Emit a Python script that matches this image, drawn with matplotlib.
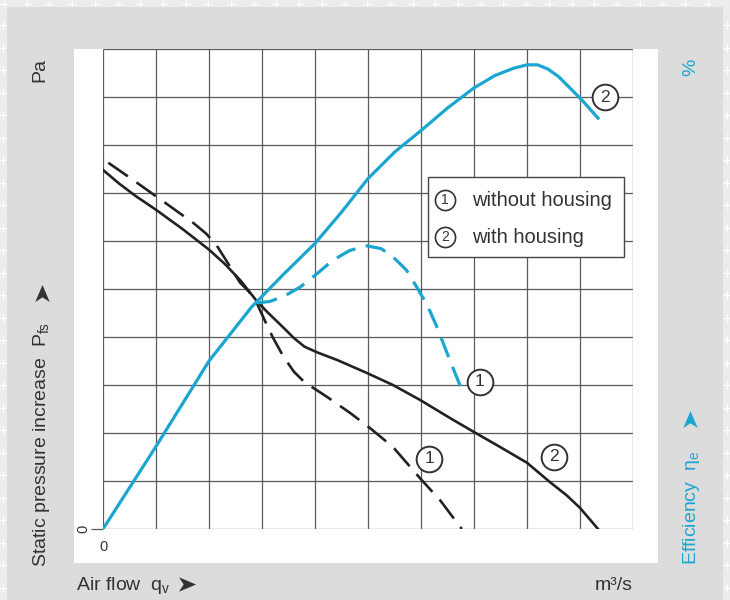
import numpy as np
import matplotlib
matplotlib.use('Agg')
import matplotlib.pyplot as plt
from matplotlib.patches import Rectangle
from matplotlib.path import Path

plt.rcParams['font.family'] = ['Liberation Sans', 'DejaVu Sans']
plt.rcParams['mathtext.fontset'] = 'custom'
plt.rcParams['mathtext.rm'] = 'Liberation Sans'
plt.rcParams['mathtext.it'] = 'Liberation Sans'

CYAN = '#1ba6d1'
DARK = '#222222'
TEXT = '#333333'

# pressure curves (grid units, 10 x 10)
p2_x = [0, 0.3, 0.6, 1.0, 1.5, 2.0, 2.3, 2.6, 2.9, 3.1, 3.4, 3.6, 3.8, 4.04, 4.42, 4.98, 5.47,
        5.98, 6.55, 7.0, 7.49, 8.0, 8.43, 8.75, 9.0, 9.34]
p2_y = [7.48, 7.2, 6.95, 6.65, 6.25, 5.82, 5.52, 5.17, 4.75, 4.52, 4.2, 3.98, 3.8, 3.68, 3.52,
        3.25, 3.0, 2.69, 2.31, 2.02, 1.71, 1.38, 0.98, 0.7, 0.44, 0.0]
p1_x = [0.1, 0.57, 1.13, 1.70, 1.95, 2.15, 2.35, 2.58, 2.75, 2.9, 3.05, 3.2, 3.4, 3.6, 3.8,
        4.23, 4.66, 5.04, 5.47, 5.98, 6.36, 6.77]
p1_y = [7.63, 7.27, 6.83, 6.38, 6.15, 5.9, 5.55, 5.14, 4.95, 4.71, 4.35, 4.0, 3.6, 3.28, 3.06,
        2.75, 2.42, 2.1, 1.71, 1.06, 0.6, 0.0]

# efficiency curves
e2_x = [0, 1.0, 2.0, 2.8, 3.4, 4.0, 4.5, 5.0, 5.5, 6.0, 6.5, 7.0, 7.4, 7.75, 8.0, 8.2, 8.4,
        8.6, 8.8, 9.05, 9.34]
e2_y = [0, 1.72, 3.5, 4.62, 5.3, 5.95, 6.6, 7.3, 7.85, 8.3, 8.77, 9.19, 9.45, 9.6, 9.67, 9.67,
        9.58, 9.42, 9.2, 8.92, 8.56]
e1_x = [2.9, 3.15, 3.45, 3.72, 4.05, 4.34, 4.65, 4.98, 5.25, 5.47, 5.72, 5.92, 6.12, 6.3, 6.55,
        6.77]
e1_y = [4.71, 4.74, 4.87, 5.04, 5.33, 5.6, 5.8, 5.9, 5.84, 5.67, 5.4, 5.04, 4.66, 4.21, 3.5,
        2.9]

# circled curve numbers
lab_x = [9.47, 7.11, 6.16, 8.5]
lab_y = [9.0, 3.07, 1.46, 1.51]
lab_t = ['2', '1', '1', '2']

legend_txt = ['without housing', 'with housing']
legend_num = ['1', '2']

# arrowhead like the ➤ sign
arrow = Path([(-1, -0.85), (1, 0), (-1, 0.85), (-0.45, 0), (-1, -0.85)],
             [Path.MOVETO, Path.LINETO, Path.LINETO, Path.LINETO, Path.CLOSEPOLY])

fig = plt.figure(figsize=(7.3, 6.0), dpi=100)
fig.patch.set_facecolor('#ececec')

# background panel in pixel coordinates
bg = fig.add_axes([0, 0, 1, 1], zorder=-5)
bg.set_xlim(0, 730)
bg.set_ylim(600, 0)
bg.axis('off')
cx = np.arange(4, 730, 22.7)
bg.scatter(cx, np.full_like(cx, 4), marker='+', s=40, c='white', lw=0.8)
cy = np.arange(25, 600, 22.5)
bg.scatter(np.full_like(cy, 3), cy, marker='+', s=40, c='white', lw=0.8)
bg.scatter(np.full_like(cy, 727), cy, marker='+', s=40, c='white', lw=0.8)
bg.add_patch(Rectangle((7, 7), 716, 600, facecolor='#dcdcdc', edgecolor='none'))
bg.add_patch(Rectangle((74, 49), 584, 514, facecolor='white', edgecolor='none'))

ax = fig.add_axes([103 / 730, 71 / 600, 530 / 730, 480 / 600])
ax.set_facecolor('none')
ax.set_xlim(0, 10)
ax.set_ylim(0, 10)
for s in ax.spines.values():
    s.set_visible(False)
ax.vlines(np.arange(11), 0, 10, color='#5a5a5a', lw=0.9, zorder=1)
ax.hlines(np.arange(11), 0, 10, color='#5a5a5a', lw=0.9, zorder=1)

ax.set_xticks([0])
ax.set_xticklabels(['0'], fontsize=10.5, color=TEXT)
ax.set_yticks([0])
ax.set_yticklabels(['0'], fontsize=10.5, color=TEXT, rotation=90, va='center')
ax.tick_params(axis='x', length=0, pad=8)
ax.tick_params(axis='y', length=9, width=0.9, color='#5a5a5a', pad=0)

ax.plot(p2_x, p2_y, color=DARK, lw=1.9, zorder=3, solid_joinstyle='round')
ax.plot(p1_x, p1_y, color=DARK, lw=1.9, zorder=3, dashes=(9, 4), dash_joinstyle='round')
ax.plot(e2_x, e2_y, color=CYAN, lw=2.3, zorder=3, solid_joinstyle='round')
ax.plot(e1_x, e1_y, color=CYAN, lw=2.3, zorder=3, dashes=(6.5, 3.3), dash_joinstyle='round')

ax.scatter(lab_x, lab_y, s=18.5 ** 2, facecolor='white', edgecolor=TEXT, lw=1.4, zorder=5)
for x, y, t in zip(lab_x, lab_y, lab_t):
    ax.text(x, y, t, ha='center', va='center', fontsize=12.5, color=TEXT, zorder=6)

# legend box
ax.add_patch(Rectangle((6.13, 5.67), 3.7, 1.66, facecolor='white', edgecolor='#444444',
                       lw=1.0, zorder=4))
for i, (n, t) in enumerate(zip(legend_num, legend_txt)):
    yy = 6.85 - i * 0.77
    ax.scatter([6.45], [yy], s=14.5 ** 2, facecolor='white', edgecolor=TEXT, lw=1.2, zorder=5)
    ax.text(6.45, yy, n, ha='center', va='center', fontsize=10, color=TEXT, zorder=6)
    ax.text(6.96, yy, t, ha='left', va='center', fontsize=14.5, color=TEXT, zorder=6)

# axis titles
fig.text(40 / 730, 1 - 70 / 600, 'Pa', rotation=90, ha='center', va='center',
         fontsize=14, color=TEXT)
fig.text(42 / 730, 1 - 567 / 600, r'Static pressure increase  P$_\mathrm{fs}$', rotation=90,
         ha='center', va='bottom', fontsize=14, color=TEXT)
fig.text(691 / 730, 1 - 67 / 600, '%', rotation=90, ha='center', va='center',
         fontsize=14, color=CYAN)
fig.text(691 / 730, 1 - 565 / 600, r'Efficiency  η$_\mathrm{e}$', rotation=90,
         ha='center', va='bottom', fontsize=14, color=CYAN)
fig.text(76 / 730, 1 - 585 / 600, r'Air flow  q$_\mathrm{v}$', ha='left', va='center',
         fontsize=14, color=TEXT)
fig.text(633 / 730, 1 - 586 / 600, 'm³/s', ha='right', va='center', fontsize=14, color=TEXT)

# arrowheads after the axis titles
bg.scatter([42], [293], marker=arrow.transformed(
    matplotlib.transforms.Affine2D().rotate_deg(90)), s=150, c=TEXT, lw=0)
bg.scatter([690], [419], marker=arrow.transformed(
    matplotlib.transforms.Affine2D().rotate_deg(90)), s=150, c=CYAN, lw=0)
bg.scatter([187], [584], marker=arrow, s=150, c=TEXT, lw=0)

fig.savefig('out.png', dpi=100, facecolor=fig.get_facecolor())
